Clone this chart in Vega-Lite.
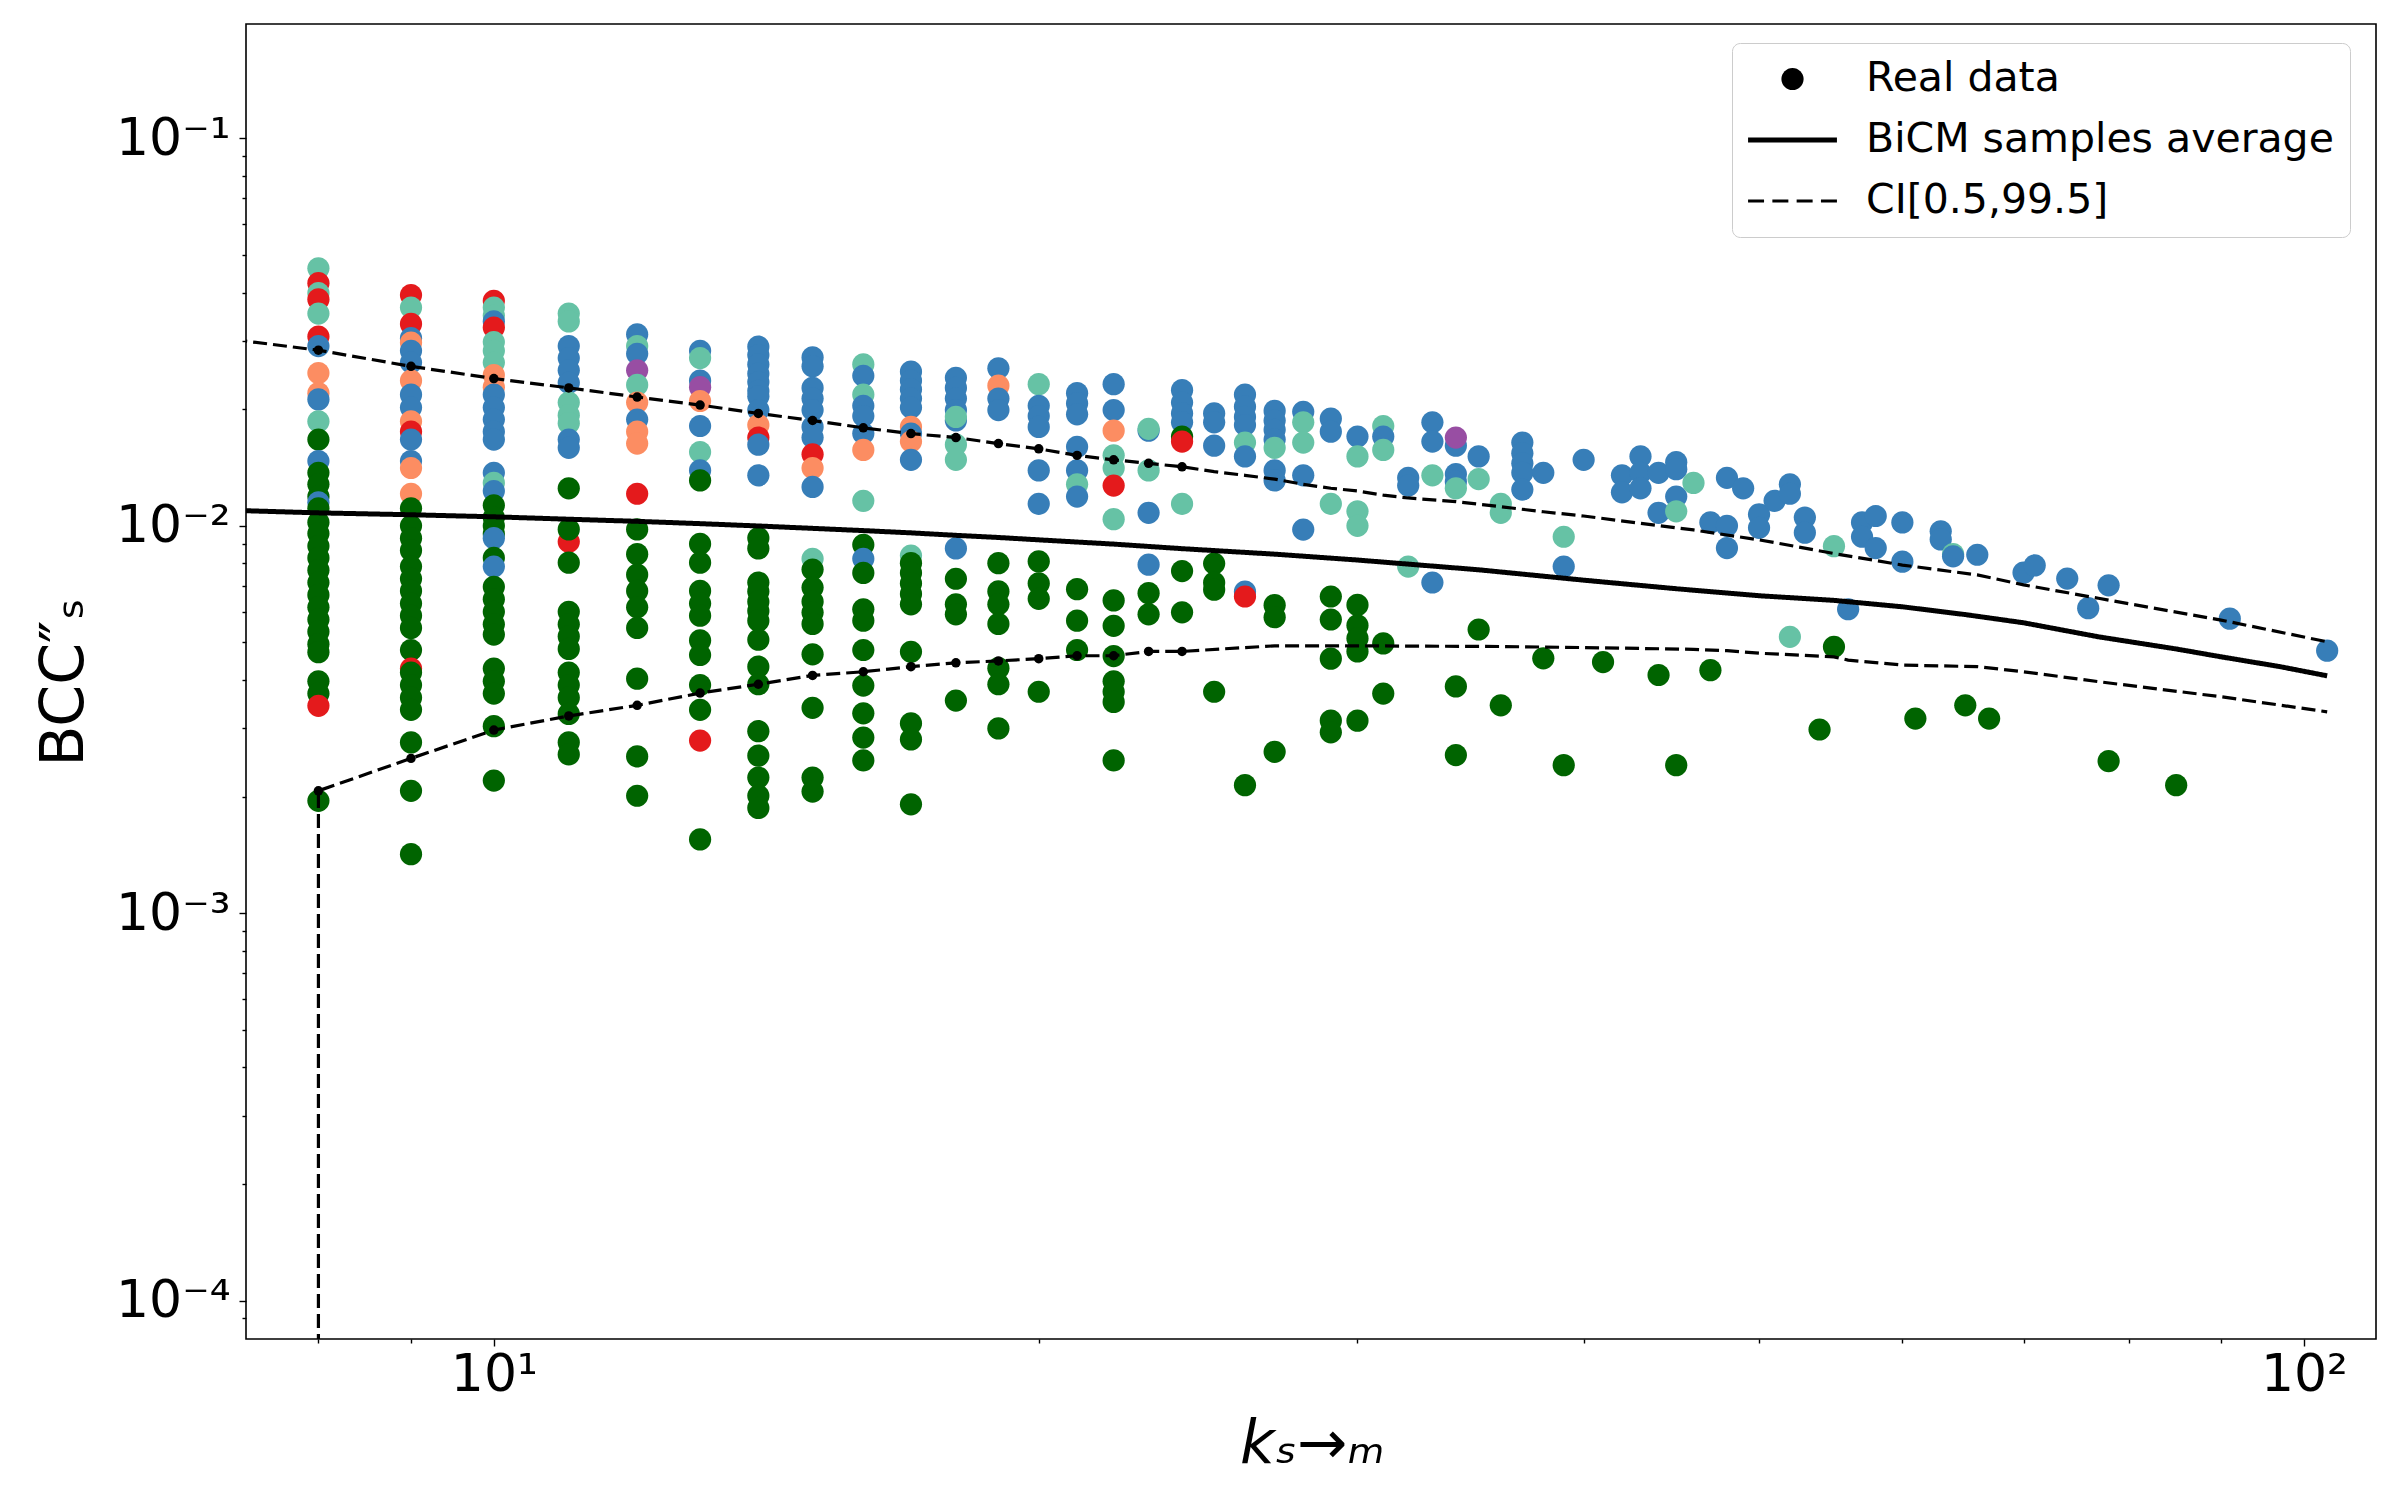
{
  "$schema": "https://vega.github.io/schema/vega-lite/v6.json",
  "width": 2130,
  "height": 1315,
  "autosize": {"type": "none"},
  "padding": {"left": 246, "top": 24, "right": 24, "bottom": 161},
  "background": "white",
  "config": {
    "view": {"stroke": "black", "strokeWidth": 1.6},
    "axis": {
      "grid": false, "domain": false, "tickColor": "black", "tickWidth": 1.4,
      "labelColor": "black", "labelFont": "DejaVu Sans", "labelFontSize": 52,
      "titleFont": "DejaVu Sans", "titleFontWeight": "normal", "titleColor": "black", "titleFontSize": 60,
      "labelFlush": false, "labelOverlap": false, "labelBound": false
    }
  },
  "datasets": {
    "lines": [
      {"part":"m","s":"BiCM samples average","o":1,"k":7,"v":0.0110},
      {"part":"m","s":"BiCM samples average","o":2,"k":8,"v":0.0108},
      {"part":"m","s":"BiCM samples average","o":3,"k":9,"v":0.01068},
      {"part":"m","s":"BiCM samples average","o":4,"k":10,"v":0.01055},
      {"part":"m","s":"BiCM samples average","o":5,"k":11,"v":0.0104},
      {"part":"m","s":"BiCM samples average","o":6,"k":12,"v":0.01027},
      {"part":"m","s":"BiCM samples average","o":7,"k":13,"v":0.01013},
      {"part":"m","s":"BiCM samples average","o":8,"k":14,"v":0.00999},
      {"part":"m","s":"BiCM samples average","o":9,"k":15,"v":0.00985},
      {"part":"m","s":"BiCM samples average","o":10,"k":16,"v":0.00972},
      {"part":"m","s":"BiCM samples average","o":11,"k":17,"v":0.00959},
      {"part":"m","s":"BiCM samples average","o":12,"k":18,"v":0.00945},
      {"part":"m","s":"BiCM samples average","o":13,"k":19,"v":0.00933},
      {"part":"m","s":"BiCM samples average","o":14,"k":20,"v":0.0092},
      {"part":"m","s":"BiCM samples average","o":15,"k":22,"v":0.00897},
      {"part":"m","s":"BiCM samples average","o":16,"k":24,"v":0.00873},
      {"part":"m","s":"BiCM samples average","o":17,"k":27,"v":0.00845},
      {"part":"m","s":"BiCM samples average","o":18,"k":30,"v":0.00816},
      {"part":"m","s":"BiCM samples average","o":19,"k":35,"v":0.0077},
      {"part":"m","s":"BiCM samples average","o":20,"k":40,"v":0.00724},
      {"part":"m","s":"BiCM samples average","o":21,"k":45,"v":0.00688},
      {"part":"m","s":"BiCM samples average","o":22,"k":50,"v":0.0066},
      {"part":"m","s":"BiCM samples average","o":23,"k":55,"v":0.00642},
      {"part":"m","s":"BiCM samples average","o":24,"k":60,"v":0.00618},
      {"part":"m","s":"BiCM samples average","o":25,"k":65,"v":0.0059},
      {"part":"m","s":"BiCM samples average","o":26,"k":70,"v":0.00562},
      {"part":"m","s":"BiCM samples average","o":27,"k":77,"v":0.00517},
      {"part":"m","s":"BiCM samples average","o":28,"k":85,"v":0.00481},
      {"part":"m","s":"BiCM samples average","o":29,"k":90,"v":0.00459},
      {"part":"m","s":"BiCM samples average","o":30,"k":97,"v":0.00433},
      {"part":"m","s":"BiCM samples average","o":31,"k":103,"v":0.0041},
      {"part":"u","s":"CI[0.5,99.5]","o":1,"k":7,"v":0.0307},
      {"part":"u","s":"CI[0.5,99.5]","o":2,"k":8,"v":0.0284},
      {"part":"u","s":"CI[0.5,99.5]","o":3,"k":9,"v":0.0258},
      {"part":"u","s":"CI[0.5,99.5]","o":4,"k":10,"v":0.024},
      {"part":"u","s":"CI[0.5,99.5]","o":5,"k":11,"v":0.0227},
      {"part":"u","s":"CI[0.5,99.5]","o":6,"k":12,"v":0.0215},
      {"part":"u","s":"CI[0.5,99.5]","o":7,"k":13,"v":0.0205},
      {"part":"u","s":"CI[0.5,99.5]","o":8,"k":14,"v":0.0195},
      {"part":"u","s":"CI[0.5,99.5]","o":9,"k":15,"v":0.0187},
      {"part":"u","s":"CI[0.5,99.5]","o":10,"k":16,"v":0.0179},
      {"part":"u","s":"CI[0.5,99.5]","o":11,"k":17,"v":0.0173},
      {"part":"u","s":"CI[0.5,99.5]","o":12,"k":18,"v":0.0169},
      {"part":"u","s":"CI[0.5,99.5]","o":13,"k":19,"v":0.0163},
      {"part":"u","s":"CI[0.5,99.5]","o":14,"k":20,"v":0.0158},
      {"part":"u","s":"CI[0.5,99.5]","o":15,"k":21,"v":0.0152},
      {"part":"u","s":"CI[0.5,99.5]","o":16,"k":22,"v":0.0148},
      {"part":"u","s":"CI[0.5,99.5]","o":17,"k":23,"v":0.0145},
      {"part":"u","s":"CI[0.5,99.5]","o":18,"k":24,"v":0.0142},
      {"part":"u","s":"CI[0.5,99.5]","o":19,"k":25,"v":0.0138},
      {"part":"u","s":"CI[0.5,99.5]","o":20,"k":26,"v":0.0135},
      {"part":"u","s":"CI[0.5,99.5]","o":21,"k":27,"v":0.0132},
      {"part":"u","s":"CI[0.5,99.5]","o":22,"k":28,"v":0.0128},
      {"part":"u","s":"CI[0.5,99.5]","o":23,"k":29,"v":0.0125},
      {"part":"u","s":"CI[0.5,99.5]","o":24,"k":30,"v":0.0123},
      {"part":"u","s":"CI[0.5,99.5]","o":25,"k":31,"v":0.012},
      {"part":"u","s":"CI[0.5,99.5]","o":26,"k":32,"v":0.0118},
      {"part":"u","s":"CI[0.5,99.5]","o":27,"k":34,"v":0.01155},
      {"part":"u","s":"CI[0.5,99.5]","o":28,"k":36,"v":0.0112},
      {"part":"u","s":"CI[0.5,99.5]","o":29,"k":38,"v":0.01087},
      {"part":"u","s":"CI[0.5,99.5]","o":30,"k":40,"v":0.0106},
      {"part":"u","s":"CI[0.5,99.5]","o":31,"k":43,"v":0.01015},
      {"part":"u","s":"CI[0.5,99.5]","o":32,"k":46,"v":0.00976},
      {"part":"u","s":"CI[0.5,99.5]","o":33,"k":48,"v":0.00947},
      {"part":"u","s":"CI[0.5,99.5]","o":34,"k":50,"v":0.0092},
      {"part":"u","s":"CI[0.5,99.5]","o":35,"k":51,"v":0.00905},
      {"part":"u","s":"CI[0.5,99.5]","o":36,"k":55,"v":0.00848},
      {"part":"u","s":"CI[0.5,99.5]","o":37,"k":60,"v":0.00792},
      {"part":"u","s":"CI[0.5,99.5]","o":38,"k":66,"v":0.00747},
      {"part":"u","s":"CI[0.5,99.5]","o":39,"k":70,"v":0.00704},
      {"part":"u","s":"CI[0.5,99.5]","o":40,"k":77,"v":0.0065},
      {"part":"u","s":"CI[0.5,99.5]","o":41,"k":90,"v":0.00571},
      {"part":"u","s":"CI[0.5,99.5]","o":42,"k":103,"v":0.00502},
      {"part":"l","s":"CI[0.5,99.5]","o":1,"k":8,"v":0.00001},
      {"part":"l","s":"CI[0.5,99.5]","o":2,"k":8,"v":0.00207},
      {"part":"l","s":"CI[0.5,99.5]","o":3,"k":9,"v":0.00251},
      {"part":"l","s":"CI[0.5,99.5]","o":4,"k":10,"v":0.00297},
      {"part":"l","s":"CI[0.5,99.5]","o":5,"k":11,"v":0.00323},
      {"part":"l","s":"CI[0.5,99.5]","o":6,"k":12,"v":0.00344},
      {"part":"l","s":"CI[0.5,99.5]","o":7,"k":13,"v":0.0037},
      {"part":"l","s":"CI[0.5,99.5]","o":8,"k":14,"v":0.0039},
      {"part":"l","s":"CI[0.5,99.5]","o":9,"k":15,"v":0.00411},
      {"part":"l","s":"CI[0.5,99.5]","o":10,"k":16,"v":0.0042},
      {"part":"l","s":"CI[0.5,99.5]","o":11,"k":17,"v":0.00433},
      {"part":"l","s":"CI[0.5,99.5]","o":12,"k":18,"v":0.00443},
      {"part":"l","s":"CI[0.5,99.5]","o":13,"k":19,"v":0.00448},
      {"part":"l","s":"CI[0.5,99.5]","o":14,"k":20,"v":0.00454},
      {"part":"l","s":"CI[0.5,99.5]","o":15,"k":21,"v":0.00462},
      {"part":"l","s":"CI[0.5,99.5]","o":16,"k":22,"v":0.00462},
      {"part":"l","s":"CI[0.5,99.5]","o":17,"k":23,"v":0.00474},
      {"part":"l","s":"CI[0.5,99.5]","o":18,"k":24,"v":0.00474},
      {"part":"l","s":"CI[0.5,99.5]","o":19,"k":26,"v":0.00485},
      {"part":"l","s":"CI[0.5,99.5]","o":20,"k":27,"v":0.0049},
      {"part":"l","s":"CI[0.5,99.5]","o":21,"k":30,"v":0.0049},
      {"part":"l","s":"CI[0.5,99.5]","o":22,"k":36,"v":0.00488},
      {"part":"l","s":"CI[0.5,99.5]","o":23,"k":40,"v":0.00485},
      {"part":"l","s":"CI[0.5,99.5]","o":24,"k":46,"v":0.0048},
      {"part":"l","s":"CI[0.5,99.5]","o":25,"k":48,"v":0.00476},
      {"part":"l","s":"CI[0.5,99.5]","o":26,"k":50,"v":0.00469},
      {"part":"l","s":"CI[0.5,99.5]","o":27,"k":55,"v":0.00459},
      {"part":"l","s":"CI[0.5,99.5]","o":28,"k":56,"v":0.0045},
      {"part":"l","s":"CI[0.5,99.5]","o":29,"k":60,"v":0.00437},
      {"part":"l","s":"CI[0.5,99.5]","o":30,"k":66,"v":0.00433},
      {"part":"l","s":"CI[0.5,99.5]","o":31,"k":70,"v":0.0042},
      {"part":"l","s":"CI[0.5,99.5]","o":32,"k":77,"v":0.00396},
      {"part":"l","s":"CI[0.5,99.5]","o":33,"k":90,"v":0.00362},
      {"part":"l","s":"CI[0.5,99.5]","o":34,"k":103,"v":0.00331}
    ],
    "pts": [
      {"k":8,"v":0.0462,"g":"T"},{"k":8,"v":0.0423,"g":"R"},{"k":8,"v":0.0399,"g":"T"},{"k":8,"v":0.0384,"g":"R"},{"k":8,"v":0.0353,"g":"T"},{"k":8,"v":0.0308,"g":"R"},{"k":8,"v":0.0291,"g":"B"},{"k":8,"v":0.0248,"g":"S"},{"k":8,"v":0.022,"g":"S"},{"k":8,"v":0.0212,"g":"B"},{"k":8,"v":0.0186,"g":"T"},{"k":8,"v":0.0167,"g":"G"},{"k":8,"v":0.0147,"g":"B"},{"k":8,"v":0.0137,"g":"G"},{"k":8,"v":0.0128,"g":"G"},{"k":8,"v":0.0119,"g":"G"},{"k":8,"v":0.0115,"g":"B"},{"k":8,"v":0.0111,"g":"G"},{"k":8,"v":0.0102,"g":"G"},{"k":8,"v":0.00955,"g":"G"},{"k":8,"v":0.00887,"g":"G"},{"k":8,"v":0.00826,"g":"G"},{"k":8,"v":0.00768,"g":"G"},{"k":8,"v":0.00714,"g":"G"},{"k":8,"v":0.00663,"g":"G"},{"k":8,"v":0.00616,"g":"G"},{"k":8,"v":0.00573,"g":"G"},{"k":8,"v":0.00533,"g":"G"},{"k":8,"v":0.00495,"g":"G"},{"k":8,"v":0.00472,"g":"G"},{"k":8,"v":0.00397,"g":"G"},{"k":8,"v":0.00369,"g":"G"},{"k":8,"v":0.00343,"g":"R"},{"k":8,"v":0.00195,"g":"G"},
      {"k":9,"v":0.0394,"g":"R"},{"k":9,"v":0.0366,"g":"T"},{"k":9,"v":0.0332,"g":"R"},{"k":9,"v":0.0305,"g":"B"},{"k":9,"v":0.0297,"g":"S"},{"k":9,"v":0.0283,"g":"B"},{"k":9,"v":0.0264,"g":"B"},{"k":9,"v":0.0237,"g":"S"},{"k":9,"v":0.0218,"g":"B"},{"k":9,"v":0.0202,"g":"B"},{"k":9,"v":0.0186,"g":"S"},{"k":9,"v":0.0175,"g":"R"},{"k":9,"v":0.0167,"g":"B"},{"k":9,"v":0.0147,"g":"B"},{"k":9,"v":0.0141,"g":"S"},{"k":9,"v":0.0121,"g":"S"},{"k":9,"v":0.0111,"g":"G"},{"k":9,"v":0.01,"g":"G"},{"k":9,"v":0.00929,"g":"G"},{"k":9,"v":0.00864,"g":"G"},{"k":9,"v":0.00785,"g":"G"},{"k":9,"v":0.0073,"g":"G"},{"k":9,"v":0.00679,"g":"G"},{"k":9,"v":0.0063,"g":"G"},{"k":9,"v":0.00586,"g":"G"},{"k":9,"v":0.00545,"g":"G"},{"k":9,"v":0.00478,"g":"G"},{"k":9,"v":0.00428,"g":"R"},{"k":9,"v":0.00418,"g":"G"},{"k":9,"v":0.00388,"g":"G"},{"k":9,"v":0.0036,"g":"G"},{"k":9,"v":0.00335,"g":"G"},{"k":9,"v":0.00276,"g":"G"},{"k":9,"v":0.00207,"g":"G"},{"k":9,"v":0.00142,"g":"G"},
      {"k":10,"v":0.0381,"g":"R"},{"k":10,"v":0.0366,"g":"T"},{"k":10,"v":0.0349,"g":"T"},{"k":10,"v":0.0337,"g":"B"},{"k":10,"v":0.0325,"g":"R"},{"k":10,"v":0.0298,"g":"T"},{"k":10,"v":0.0283,"g":"T"},{"k":10,"v":0.0264,"g":"T"},{"k":10,"v":0.0245,"g":"S"},{"k":10,"v":0.0228,"g":"S"},{"k":10,"v":0.0218,"g":"B"},{"k":10,"v":0.0202,"g":"B"},{"k":10,"v":0.0188,"g":"B"},{"k":10,"v":0.0175,"g":"B"},{"k":10,"v":0.0167,"g":"B"},{"k":10,"v":0.0137,"g":"B"},{"k":10,"v":0.0129,"g":"T"},{"k":10,"v":0.0123,"g":"B"},{"k":10,"v":0.0113,"g":"G"},{"k":10,"v":0.0105,"g":"G"},{"k":10,"v":0.01,"g":"G"},{"k":10,"v":0.00953,"g":"G"},{"k":10,"v":0.00929,"g":"B"},{"k":10,"v":0.00826,"g":"G"},{"k":10,"v":0.00785,"g":"B"},{"k":10,"v":0.00696,"g":"G"},{"k":10,"v":0.00646,"g":"G"},{"k":10,"v":0.006,"g":"G"},{"k":10,"v":0.00557,"g":"G"},{"k":10,"v":0.00524,"g":"G"},{"k":10,"v":0.00428,"g":"G"},{"k":10,"v":0.00397,"g":"G"},{"k":10,"v":0.00369,"g":"G"},{"k":10,"v":0.00304,"g":"G"},{"k":10,"v":0.0022,"g":"G"},
      {"k":11,"v":0.0353,"g":"T"},{"k":11,"v":0.0337,"g":"T"},{"k":11,"v":0.0291,"g":"B"},{"k":11,"v":0.0271,"g":"B"},{"k":11,"v":0.0252,"g":"B"},{"k":11,"v":0.0234,"g":"B"},{"k":11,"v":0.0208,"g":"T"},{"k":11,"v":0.0193,"g":"T"},{"k":11,"v":0.0184,"g":"T"},{"k":11,"v":0.0167,"g":"B"},{"k":11,"v":0.0159,"g":"B"},{"k":11,"v":0.0125,"g":"G"},{"k":11,"v":0.00909,"g":"R"},{"k":11,"v":0.00979,"g":"G"},{"k":11,"v":0.00803,"g":"G"},{"k":11,"v":0.006,"g":"G"},{"k":11,"v":0.00557,"g":"G"},{"k":11,"v":0.00518,"g":"G"},{"k":11,"v":0.00481,"g":"G"},{"k":11,"v":0.00418,"g":"G"},{"k":11,"v":0.00388,"g":"G"},{"k":11,"v":0.0036,"g":"G"},{"k":11,"v":0.00327,"g":"G"},{"k":11,"v":0.00276,"g":"G"},{"k":11,"v":0.00257,"g":"G"},
      {"k":12,"v":0.0312,"g":"B"},{"k":12,"v":0.0291,"g":"T"},{"k":12,"v":0.0278,"g":"B"},{"k":12,"v":0.0252,"g":"P"},{"k":12,"v":0.0231,"g":"T"},{"k":12,"v":0.0208,"g":"S"},{"k":12,"v":0.0188,"g":"B"},{"k":12,"v":0.0175,"g":"S"},{"k":12,"v":0.0163,"g":"S"},{"k":12,"v":0.0121,"g":"R"},{"k":12,"v":0.00979,"g":"G"},{"k":12,"v":0.00845,"g":"G"},{"k":12,"v":0.00748,"g":"G"},{"k":12,"v":0.00679,"g":"G"},{"k":12,"v":0.00616,"g":"G"},{"k":12,"v":0.00545,"g":"G"},{"k":12,"v":0.00403,"g":"G"},{"k":12,"v":0.00254,"g":"G"},{"k":12,"v":0.00201,"g":"G"},
      {"k":13,"v":0.0283,"g":"B"},{"k":13,"v":0.0271,"g":"T"},{"k":13,"v":0.0237,"g":"B"},{"k":13,"v":0.0228,"g":"P"},{"k":13,"v":0.021,"g":"S"},{"k":13,"v":0.0181,"g":"B"},{"k":13,"v":0.0155,"g":"T"},{"k":13,"v":0.0139,"g":"B"},{"k":13,"v":0.0131,"g":"G"},{"k":13,"v":0.00898,"g":"G"},{"k":13,"v":0.00803,"g":"G"},{"k":13,"v":0.00679,"g":"G"},{"k":13,"v":0.0063,"g":"G"},{"k":13,"v":0.00586,"g":"G"},{"k":13,"v":0.00506,"g":"G"},{"k":13,"v":0.00464,"g":"G"},{"k":13,"v":0.00388,"g":"G"},{"k":13,"v":0.00335,"g":"G"},{"k":13,"v":0.00279,"g":"R"},{"k":13,"v":0.00155,"g":"G"},
      {"k":14,"v":0.029,"g":"B"},{"k":14,"v":0.0276,"g":"B"},{"k":14,"v":0.0261,"g":"B"},{"k":14,"v":0.0247,"g":"B"},{"k":14,"v":0.0235,"g":"B"},{"k":14,"v":0.0223,"g":"B"},{"k":14,"v":0.0216,"g":"B"},{"k":14,"v":0.0199,"g":"B"},{"k":14,"v":0.0182,"g":"S"},{"k":14,"v":0.0169,"g":"R"},{"k":14,"v":0.0162,"g":"B"},{"k":14,"v":0.0135,"g":"B"},{"k":14,"v":0.0093,"g":"G"},{"k":14,"v":0.00874,"g":"G"},{"k":14,"v":0.00714,"g":"G"},{"k":14,"v":0.00677,"g":"G"},{"k":14,"v":0.00637,"g":"G"},{"k":14,"v":0.00603,"g":"G"},{"k":14,"v":0.00569,"g":"G"},{"k":14,"v":0.00508,"g":"G"},{"k":14,"v":0.00433,"g":"G"},{"k":14,"v":0.0039,"g":"G"},{"k":14,"v":0.00295,"g":"G"},{"k":14,"v":0.00255,"g":"G"},{"k":14,"v":0.00224,"g":"G"},{"k":14,"v":0.00201,"g":"G"},{"k":14,"v":0.00187,"g":"G"},
      {"k":15,"v":0.0272,"g":"B"},{"k":15,"v":0.0258,"g":"B"},{"k":15,"v":0.0227,"g":"B"},{"k":15,"v":0.0213,"g":"B"},{"k":15,"v":0.0199,"g":"B"},{"k":15,"v":0.018,"g":"B"},{"k":15,"v":0.0169,"g":"B"},{"k":15,"v":0.0153,"g":"R"},{"k":15,"v":0.0141,"g":"S"},{"k":15,"v":0.0126,"g":"B"},{"k":15,"v":0.00822,"g":"T"},{"k":15,"v":0.00771,"g":"G"},{"k":15,"v":0.00693,"g":"G"},{"k":15,"v":0.00637,"g":"G"},{"k":15,"v":0.00597,"g":"G"},{"k":15,"v":0.00558,"g":"G"},{"k":15,"v":0.00466,"g":"G"},{"k":15,"v":0.00339,"g":"G"},{"k":15,"v":0.00224,"g":"G"},{"k":15,"v":0.00206,"g":"G"},
      {"k":16,"v":0.0261,"g":"T"},{"k":16,"v":0.0244,"g":"B"},{"k":16,"v":0.0218,"g":"T"},{"k":16,"v":0.0204,"g":"B"},{"k":16,"v":0.0192,"g":"B"},{"k":16,"v":0.0173,"g":"B"},{"k":16,"v":0.0157,"g":"S"},{"k":16,"v":0.0116,"g":"T"},{"k":16,"v":0.00893,"g":"G"},{"k":16,"v":0.00822,"g":"B"},{"k":16,"v":0.00756,"g":"G"},{"k":16,"v":0.00609,"g":"G"},{"k":16,"v":0.00569,"g":"G"},{"k":16,"v":0.00478,"g":"G"},{"k":16,"v":0.00387,"g":"G"},{"k":16,"v":0.00328,"g":"G"},{"k":16,"v":0.00284,"g":"G"},{"k":16,"v":0.00248,"g":"G"},
      {"k":17,"v":0.025,"g":"B"},{"k":17,"v":0.0237,"g":"B"},{"k":17,"v":0.0225,"g":"B"},{"k":17,"v":0.0213,"g":"B"},{"k":17,"v":0.0202,"g":"B"},{"k":17,"v":0.018,"g":"S"},{"k":17,"v":0.0173,"g":"B"},{"k":17,"v":0.0165,"g":"S"},{"k":17,"v":0.0148,"g":"B"},{"k":17,"v":0.00838,"g":"T"},{"k":17,"v":0.00801,"g":"G"},{"k":17,"v":0.00756,"g":"G"},{"k":17,"v":0.0071,"g":"G"},{"k":17,"v":0.00667,"g":"G"},{"k":17,"v":0.00627,"g":"G"},{"k":17,"v":0.00473,"g":"G"},{"k":17,"v":0.00309,"g":"G"},{"k":17,"v":0.00281,"g":"G"},{"k":17,"v":0.00191,"g":"G"},
      {"k":18,"v":0.0241,"g":"B"},{"k":18,"v":0.0227,"g":"B"},{"k":18,"v":0.0213,"g":"B"},{"k":18,"v":0.0199,"g":"B"},{"k":18,"v":0.0187,"g":"B"},{"k":18,"v":0.0191,"g":"T"},{"k":18,"v":0.0162,"g":"T"},{"k":18,"v":0.0148,"g":"T"},{"k":18,"v":0.00874,"g":"B"},{"k":18,"v":0.0073,"g":"G"},{"k":18,"v":0.00627,"g":"G"},{"k":18,"v":0.00591,"g":"G"},{"k":18,"v":0.00354,"g":"G"},
      {"k":19,"v":0.0255,"g":"B"},{"k":19,"v":0.023,"g":"S"},{"k":19,"v":0.0213,"g":"B"},{"k":19,"v":0.0199,"g":"B"},{"k":19,"v":0.00801,"g":"G"},{"k":19,"v":0.00677,"g":"G"},{"k":19,"v":0.00627,"g":"G"},{"k":19,"v":0.00558,"g":"G"},{"k":19,"v":0.00429,"g":"G"},{"k":19,"v":0.0039,"g":"G"},{"k":19,"v":0.003,"g":"G"},
      {"k":20,"v":0.0232,"g":"T"},{"k":20,"v":0.0204,"g":"B"},{"k":20,"v":0.0192,"g":"B"},{"k":20,"v":0.018,"g":"B"},{"k":20,"v":0.0139,"g":"B"},{"k":20,"v":0.0114,"g":"B"},{"k":20,"v":0.00809,"g":"G"},{"k":20,"v":0.0071,"g":"G"},{"k":20,"v":0.00648,"g":"G"},{"k":20,"v":0.00373,"g":"G"},
      {"k":21,"v":0.022,"g":"B"},{"k":21,"v":0.0207,"g":"B"},{"k":21,"v":0.0194,"g":"B"},{"k":21,"v":0.016,"g":"B"},{"k":21,"v":0.0139,"g":"B"},{"k":21,"v":0.0128,"g":"T"},{"k":21,"v":0.0119,"g":"B"},{"k":21,"v":0.00686,"g":"G"},{"k":21,"v":0.00569,"g":"G"},{"k":21,"v":0.00478,"g":"G"},
      {"k":22,"v":0.0232,"g":"B"},{"k":22,"v":0.0199,"g":"B"},{"k":22,"v":0.0176,"g":"S"},{"k":22,"v":0.0152,"g":"T"},{"k":22,"v":0.0141,"g":"T"},{"k":22,"v":0.0127,"g":"R"},{"k":22,"v":0.0104,"g":"T"},{"k":22,"v":0.00642,"g":"G"},{"k":22,"v":0.00552,"g":"G"},{"k":22,"v":0.00461,"g":"G"},{"k":22,"v":0.00397,"g":"G"},{"k":22,"v":0.00373,"g":"G"},{"k":22,"v":0.00351,"g":"G"},{"k":22,"v":0.00248,"g":"G"},
      {"k":23,"v":0.0176,"g":"B"},{"k":23,"v":0.0178,"g":"T"},{"k":23,"v":0.0139,"g":"T"},{"k":23,"v":0.0108,"g":"B"},{"k":23,"v":0.00794,"g":"B"},{"k":23,"v":0.0067,"g":"G"},{"k":23,"v":0.00591,"g":"G"},
      {"k":24,"v":0.0224,"g":"B"},{"k":24,"v":0.0208,"g":"B"},{"k":24,"v":0.0195,"g":"B"},{"k":24,"v":0.0185,"g":"B"},{"k":24,"v":0.017,"g":"G"},{"k":24,"v":0.0165,"g":"R"},{"k":24,"v":0.0114,"g":"T"},{"k":24,"v":0.00764,"g":"G"},{"k":24,"v":0.00598,"g":"G"},
      {"k":25,"v":0.0195,"g":"B"},{"k":25,"v":0.0185,"g":"B"},{"k":25,"v":0.0161,"g":"B"},{"k":25,"v":0.00799,"g":"G"},{"k":25,"v":0.00713,"g":"G"},{"k":25,"v":0.00684,"g":"G"},{"k":25,"v":0.00373,"g":"G"},
      {"k":26,"v":0.0218,"g":"B"},{"k":26,"v":0.0203,"g":"B"},{"k":26,"v":0.0191,"g":"B"},{"k":26,"v":0.0182,"g":"B"},{"k":26,"v":0.0164,"g":"T"},{"k":26,"v":0.0151,"g":"B"},{"k":26,"v":0.00676,"g":"B"},{"k":26,"v":0.00657,"g":"R"},{"k":26,"v":0.00214,"g":"G"},
      {"k":27,"v":0.0198,"g":"B"},{"k":27,"v":0.0187,"g":"B"},{"k":27,"v":0.0177,"g":"B"},{"k":27,"v":0.0167,"g":"B"},{"k":27,"v":0.0159,"g":"T"},{"k":27,"v":0.0139,"g":"B"},{"k":27,"v":0.0131,"g":"B"},{"k":27,"v":0.00624,"g":"G"},{"k":27,"v":0.00581,"g":"G"},{"k":27,"v":0.00261,"g":"G"},
      {"k":28,"v":0.0197,"g":"B"},{"k":28,"v":0.0185,"g":"T"},{"k":28,"v":0.0164,"g":"T"},{"k":28,"v":0.0135,"g":"B"},{"k":28,"v":0.00978,"g":"B"},
      {"k":29,"v":0.0189,"g":"B"},{"k":29,"v":0.0175,"g":"B"},{"k":29,"v":0.0114,"g":"T"},{"k":29,"v":0.00657,"g":"G"},{"k":29,"v":0.00573,"g":"G"},{"k":29,"v":0.00454,"g":"G"},{"k":29,"v":0.00314,"g":"G"},{"k":29,"v":0.00293,"g":"G"},
      {"k":30,"v":0.017,"g":"B"},{"k":30,"v":0.0151,"g":"T"},{"k":30,"v":0.0109,"g":"T"},{"k":30,"v":0.01,"g":"T"},{"k":30,"v":0.00625,"g":"G"},{"k":30,"v":0.00553,"g":"G"},{"k":30,"v":0.00512,"g":"G"},{"k":30,"v":0.00474,"g":"G"},{"k":30,"v":0.00314,"g":"G"},
      {"k":31,"v":0.0181,"g":"T"},{"k":31,"v":0.017,"g":"B"},{"k":31,"v":0.0157,"g":"T"},{"k":31,"v":0.00497,"g":"G"},{"k":31,"v":0.00369,"g":"G"},
      {"k":32,"v":0.0133,"g":"B"},{"k":32,"v":0.0127,"g":"B"},{"k":32,"v":0.00785,"g":"T"},
      {"k":33,"v":0.0185,"g":"B"},{"k":33,"v":0.0165,"g":"B"},{"k":33,"v":0.0135,"g":"T"},{"k":33,"v":0.00714,"g":"B"},
      {"k":34,"v":0.0161,"g":"B"},{"k":34,"v":0.0169,"g":"P"},{"k":34,"v":0.0136,"g":"B"},{"k":34,"v":0.013,"g":"B"},{"k":34,"v":0.0125,"g":"T"},{"k":34,"v":0.00385,"g":"G"},{"k":34,"v":0.00256,"g":"G"},
      {"k":35,"v":0.0151,"g":"B"},{"k":35,"v":0.0132,"g":"T"},{"k":35,"v":0.0054,"g":"G"},
      {"k":36,"v":0.0114,"g":"T"},{"k":36,"v":0.0108,"g":"T"},{"k":36,"v":0.00344,"g":"G"},
      {"k":37,"v":0.0164,"g":"B"},{"k":37,"v":0.0154,"g":"B"},{"k":37,"v":0.0145,"g":"B"},{"k":37,"v":0.0137,"g":"B"},{"k":37,"v":0.0124,"g":"B"},
      {"k":38,"v":0.0137,"g":"B"},{"k":38,"v":0.00455,"g":"G"},
      {"k":39,"v":0.00937,"g":"T"},{"k":39,"v":0.00785,"g":"B"},{"k":39,"v":0.00241,"g":"G"},
      {"k":40,"v":0.0148,"g":"B"},
      {"k":41,"v":0.00445,"g":"G"},
      {"k":42,"v":0.0135,"g":"B"},{"k":42,"v":0.0122,"g":"B"},
      {"k":43,"v":0.0151,"g":"B"},{"k":43,"v":0.0137,"g":"B"},{"k":43,"v":0.0125,"g":"B"},
      {"k":44,"v":0.0137,"g":"B"},{"k":44,"v":0.0108,"g":"B"},{"k":44,"v":0.00412,"g":"G"},
      {"k":45,"v":0.0146,"g":"B"},{"k":45,"v":0.014,"g":"B"},{"k":45,"v":0.0119,"g":"B"},{"k":45,"v":0.0109,"g":"T"},{"k":45,"v":0.00241,"g":"G"},
      {"k":46,"v":0.0129,"g":"T"},
      {"k":47,"v":0.0102,"g":"B"},{"k":47,"v":0.00424,"g":"G"},
      {"k":48,"v":0.0133,"g":"B"},{"k":48,"v":0.01,"g":"B"},{"k":48,"v":0.00876,"g":"B"},
      {"k":49,"v":0.0125,"g":"B"},
      {"k":50,"v":0.0107,"g":"B"},{"k":50,"v":0.00988,"g":"B"},
      {"k":51,"v":0.0116,"g":"B"},
      {"k":52,"v":0.0128,"g":"B"},{"k":52,"v":0.0121,"g":"B"},{"k":52,"v":0.00517,"g":"T"},
      {"k":53,"v":0.0105,"g":"B"},{"k":53,"v":0.0096,"g":"B"},
      {"k":54,"v":0.00298,"g":"G"},
      {"k":55,"v":0.00886,"g":"T"},{"k":55,"v":0.00487,"g":"G"},
      {"k":56,"v":0.00609,"g":"B"},
      {"k":57,"v":0.0102,"g":"B"},{"k":57,"v":0.00937,"g":"B"},
      {"k":58,"v":0.0106,"g":"B"},{"k":58,"v":0.00876,"g":"B"},
      {"k":60,"v":0.0102,"g":"B"},{"k":60,"v":0.00808,"g":"B"},
      {"k":61,"v":0.00318,"g":"G"},
      {"k":63,"v":0.00968,"g":"B"},{"k":63,"v":0.00922,"g":"B"},
      {"k":64,"v":0.00845,"g":"T"},{"k":64,"v":0.00834,"g":"B"},
      {"k":65,"v":0.00344,"g":"G"},
      {"k":66,"v":0.00842,"g":"B"},
      {"k":67,"v":0.00318,"g":"G"},
      {"k":70,"v":0.00757,"g":"B"},
      {"k":71,"v":0.0079,"g":"B"},
      {"k":74,"v":0.00731,"g":"B"},
      {"k":76,"v":0.00613,"g":"B"},
      {"k":78,"v":0.00702,"g":"B"},{"k":78,"v":0.00247,"g":"G"},
      {"k":85,"v":0.00214,"g":"G"},
      {"k":91,"v":0.00576,"g":"B"},
      {"k":103,"v":0.00476,"g":"B"}
    ]
  },
  "encoding": {
    "x": {
      "field": "k", "type": "quantitative",
      "scale": {"type": "log", "domain": [7.296, 109.6], "nice": false, "zero": false},
      "axis": {
        "values": [8, 9, 10, 20, 30, 40, 50, 60, 70, 80, 90, 100],
        "labelExpr": "datum.value === 10 ? '10¹' : datum.value === 100 ? '10²' : ''",
        "tickSize": {"condition": {"test": "datum.value === 10 || datum.value === 100", "value": 7}, "value": 4},
        "labelPadding": 3,
        "title": "kₛ→ₘ", "titleFontStyle": "italic",
        "titleX": 1066, "titleY": 123, "titleAlign": "center", "titleBaseline": "alphabetic"
      }
    },
    "y": {
      "field": "v", "type": "quantitative",
      "scale": {"type": "log", "domain": [0.0000796, 0.1974], "nice": false, "zero": false},
      "axis": {
        "values": [0.00009, 0.0001, 0.0002, 0.0003, 0.0004, 0.0005, 0.0006, 0.0007, 0.0008, 0.0009, 0.001, 0.002, 0.003, 0.004, 0.005, 0.006, 0.007, 0.008, 0.009, 0.01, 0.02, 0.03, 0.04, 0.05, 0.06, 0.07, 0.08, 0.09, 0.1],
        "labelExpr": "datum.value === 0.1 ? '10⁻¹' : datum.value === 0.01 ? '10⁻²' : datum.value === 0.001 ? '10⁻³' : datum.value === 0.0001 ? '10⁻⁴' : ''",
        "tickSize": {"condition": {"test": "datum.value === 0.1 || datum.value === 0.01 || datum.value === 0.001 || datum.value === 0.0001", "value": 7}, "value": 4},
        "labelPadding": 9,
        "title": "BCC″ₛ",
        "titleX": -164, "titleY": 658, "titleAngle": -90, "titleAlign": "center", "titleBaseline": "alphabetic"
      }
    }
  },
  "layer": [
    {
      "data": {"name": "pts"},
      "mark": {"type": "point", "filled": true, "size": 7900, "opacity": 1, "strokeWidth": 0, "clip": true},
      "encoding": {
        "color": {
          "field": "g", "type": "nominal",
          "scale": {"domain": ["G", "B", "T", "R", "S", "P"], "range": ["#006400", "#377eb8", "#66c2a5", "#e41a1c", "#fc8d62", "#984ea3"]},
          "legend": null
        },
        "shape": {
          "datum": "Real data", "type": "nominal",
          "scale": {
            "domain": ["Real data", "BiCM samples average", "CI[0.5,99.5]"],
            "range": [
              "M0.25,0A0.25,0.25,0,1,1,-0.25,0A0.25,0.25,0,1,1,0.25,0Z",
              "M-1,-0.056L1,-0.056L1,0.056L-1,0.056Z",
              "M-1,-0.036L-0.64,-0.036L-0.64,0.036L-1,0.036Z M-0.453,-0.036L-0.093,-0.036L-0.093,0.036L-0.453,0.036Z M0.093,-0.036L0.453,-0.036L0.453,0.036L0.093,0.036Z M0.64,-0.036L1,-0.036L1,0.036L0.64,0.036Z"
            ]
          },
          "legend": {
            "orient": "none", "legendX": 1486, "legendY": 19, "title": null,
            "padding": 16, "fillColor": "white", "strokeColor": "#cccccc", "cornerRadius": 8,
            "labelFontSize": 41, "labelFont": "DejaVu Sans", "labelColor": "black", "labelLimit": 1000,
            "symbolSize": 7900, "symbolFillColor": "black", "symbolStrokeColor": "black", "symbolStrokeWidth": 0, "symbolOpacity": 1,
            "clipHeight": 40, "rowPadding": 20, "labelOffset": 29, "symbolOffset": 0
          }
        }
      }
    },
    {
      "data": {"name": "lines"},
      "mark": {"type": "line", "clip": true, "color": "black"},
      "encoding": {
        "detail": {"field": "part"},
        "order": {"field": "o", "type": "quantitative"},
        "strokeWidth": {"condition": {"test": "datum.s === 'BiCM samples average'", "value": 5}, "value": 3.2},
        "strokeDash": {"condition": {"test": "datum.s === 'BiCM samples average'", "value": [1, 0]}, "value": [14, 6]}
      }
    },
    {
      "data": {"name": "lines"},
      "transform": [{"filter": "datum.part !== 'm' && datum.k >= 8 && datum.k <= 24 && datum.v > 0.0001"}],
      "mark": {"type": "circle", "size": 90, "color": "black", "opacity": 1, "clip": true}
    }
  ]
}
